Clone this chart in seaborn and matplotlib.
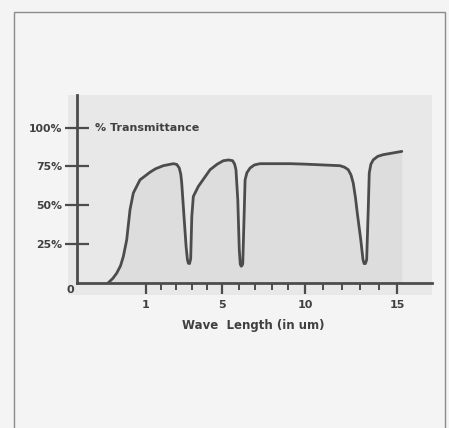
import numpy as np
import pandas as pd
import matplotlib
matplotlib.use("Agg")
import matplotlib.pyplot as plt
from matplotlib.patches import Rectangle
import seaborn as sns

# ---- data ----
wavelength = [0.45, 0.52, 0.575, 0.63, 0.671, 0.720, 0.768, 0.816, 0.913, 1.05,
              1.21, 1.50, 1.91, 2.44, 2.62, 2.75, 2.83, 2.88, 3.00, 3.11,
              3.18, 3.23, 3.29, 3.35, 3.41, 3.49, 3.75, 4.37, 4.75, 5.08,
              5.40, 5.64, 5.76, 5.84, 5.95, 6.04, 6.10, 6.16, 6.22, 6.25,
              6.33, 6.39, 6.50, 6.69, 6.95, 7.29, 9.10, 10.0, 11.90, 12.15,
              12.35, 12.50, 12.62, 12.74, 12.84, 13.03, 13.15, 13.21, 13.28, 13.35,
              13.44, 13.49, 13.58, 13.71, 13.95, 14.25, 15.26]
transmittance = [0.0, 3.0, 6.3, 11.0, 17.0, 27.7, 47.1, 57.9, 66.4, 69.8,
                 71.3, 73.5, 75.5, 76.8, 76.3, 74.0, 70.0, 64.3, 42.8, 23.4,
                 15.0, 12.7, 12.5, 15.5, 42.8, 55.7, 62.1, 72.9, 76.5, 78.7,
                 79.2, 78.7, 76.5, 72.9, 53.5, 21.3, 12.0, 10.8, 11.5, 12.7,
                 42.8, 66.4, 71.0, 74.0, 76.0, 76.8, 76.8, 76.5, 75.5, 74.5,
                 72.9, 69.5, 64.3, 55.0, 45.0, 27.7, 15.0, 12.5, 12.5, 15.0,
                 49.2, 70.8, 76.5, 79.3, 81.5, 82.6, 84.7]

x_major = [1, 5, 10, 15]
x_major_labels = ["1", "5", "10", "15"]
x_minor = [1.8, 2.6, 3.4, 4.2, 6, 7, 8, 9, 11, 12, 13, 14]
y_ticks = [25, 50, 75, 100]
y_labels = ["25%", "50%", "75%", "100%"]

# hand-drawn (non-uniform) wavelength axis: knots of the printed scale
scale_w = [-5, 0, 1, 5, 10, 15, 25]
scale_p = [77 - 345, 77, 146, 222, 305, 397, 397 + 184]

def fwd(w):
    return np.interp(w, scale_w, scale_p)

def inv(p):
    return np.interp(p, scale_p, scale_w)

df = pd.DataFrame({"wl": wavelength, "T": transmittance})

sns.set_theme(style="white")
plt.rcParams["font.family"] = ["DejaVu Sans"]

W, H = 449, 428
fig = plt.figure(figsize=(W / 100, H / 100), dpi=100)
fig.patch.set_facecolor("#f4f4f4")

# scanned-page background block and outer frame
fig.patches.append(Rectangle((68 / W, 1 - 295 / H), (432 - 68) / W, (295 - 95) / H,
                             transform=fig.transFigure, facecolor="#e8e8e8",
                             edgecolor="none", zorder=-2))
fig.patches.append(Rectangle((14 / W, -0.05), (445 - 14) / W, 1 - 12 / H + 0.05,
                             transform=fig.transFigure, facecolor="none",
                             edgecolor="#8a8a8a", lw=1.0, zorder=-2))

ax = fig.add_axes([77 / W, 1 - 283 / H, (432 - 77) / W, (283 - 95) / H])
ax.set_facecolor("none")
ax.set_zorder(1)
ax.set_xscale("function", functions=(fwd, inv))
ax.set_xlim(0, 16.9)
ax.set_ylim(0, 121)

ink = "#4c4c4c"
ax.fill_between(df["wl"], 0, df["T"], color="#dddddd", lw=0, zorder=1)
sns.lineplot(data=df, x="wl", y="T", ax=ax, color=ink, lw=2.0,
             estimator=None, sort=False, zorder=3,
             solid_joinstyle="round", solid_capstyle="round")

for s in ["top", "right"]:
    ax.spines[s].set_visible(False)
for s in ["left", "bottom"]:
    ax.spines[s].set_color(ink)
    ax.spines[s].set_linewidth(2.0)

ax.set_xticks(x_major)
ax.set_xticklabels(x_major_labels)
ax.set_xticks(x_minor, minor=True)
ax.set_yticks(y_ticks)
ax.set_yticklabels(y_labels)
ax.tick_params(axis="x", which="major", direction="out", length=8, width=1.6,
               color=ink, pad=4, labelsize=8, labelcolor="#404040", bottom=True)
ax.tick_params(axis="x", which="minor", direction="out", length=5, width=1.4,
               color=ink, bottom=True)
ax.tick_params(axis="y", which="major", direction="inout", length=17, width=1.6,
               color=ink, pad=2, labelsize=7.8, labelcolor="#404040", left=True)
for lab in ax.get_xticklabels() + ax.get_yticklabels():
    lab.set_fontweight("bold")
ax.set_xlabel("")
ax.set_ylabel("")

ax.text(0.26, 100, "% Transmittance", fontsize=8, fontweight="bold",
        color="#404040", va="center", ha="left")
fig.text(70 / W, 1 - 290 / H, "0", fontsize=8, fontweight="bold",
         color="#404040", ha="center", va="center")
fig.text(253 / W, 1 - 326 / H, "Wave  Length (in um)", fontsize=8.5,
         fontweight="bold", color="#404040", ha="center", va="center")

fig.savefig("out.png", dpi=100, facecolor=fig.get_facecolor())
